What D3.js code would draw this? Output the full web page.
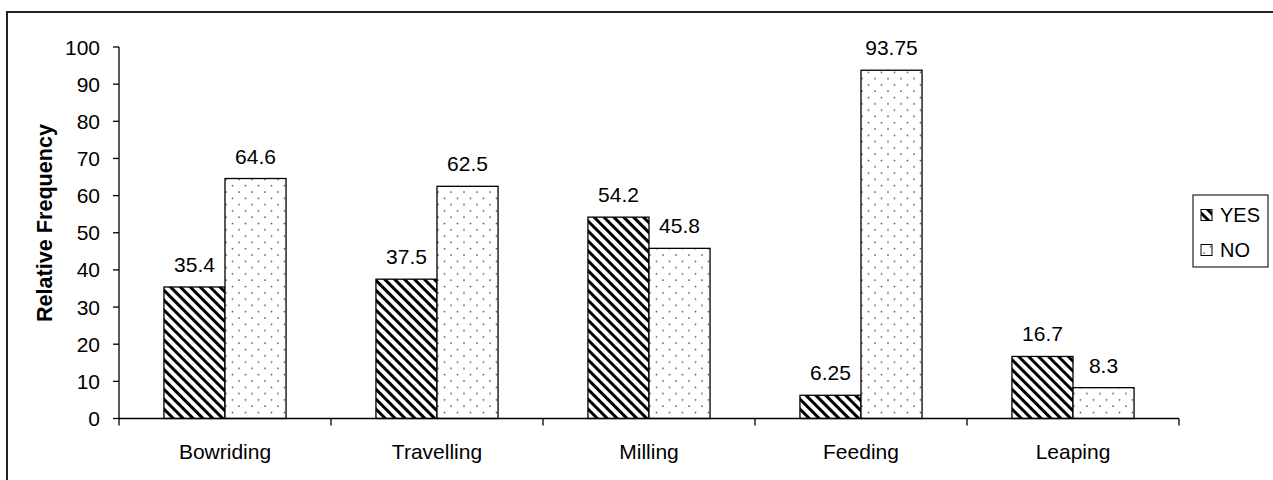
<!DOCTYPE html>
<html><head><meta charset="utf-8">
<script src="https://cdn.jsdelivr.net/npm/d3@7"></script>
<style>body{margin:0;background:#fff}svg{display:block}text{font-family:"Liberation Sans",Arial,sans-serif}</style>
</head><body>
<svg id="c" width="1273" height="480"></svg>
<script>
const categories = ["Bowriding","Travelling","Milling","Feeding","Leaping"];
const seriesNames = ["YES","NO"];
const yesValues = [35.4, 37.5, 54.2, 6.25, 16.7];
const noValues = [64.6, 62.5, 45.8, 93.75, 8.3];
const yesLabels = ["35.4","37.5","54.2","6.25","16.7"];
const noLabels = ["64.6","62.5","45.8","93.75","8.3"];
const yTicks = [0,10,20,30,40,50,60,70,80,90,100];

const svg = d3.select("#c");
const defs = svg.append("defs");
const hatch = defs.append("pattern").attr("id","hatch").attr("patternUnits","userSpaceOnUse")
  .attr("width",7).attr("height",7).attr("patternTransform","rotate(-45)");
hatch.append("rect").attr("width",7).attr("height",7).attr("fill","#fff");
hatch.append("rect").attr("x",0).attr("y",0).attr("width",3).attr("height",7).attr("fill","#000");
const dots = defs.append("pattern").attr("id","dots").attr("patternUnits","userSpaceOnUse")
  .attr("width",13).attr("height",12.6);
dots.append("rect").attr("width",13).attr("height",12.6).attr("fill","#fff");
dots.append("circle").attr("cx",3).attr("cy",3).attr("r",0.9).attr("fill","#555");
dots.append("circle").attr("cx",9.5).attr("cy",9.3).attr("r",0.9).attr("fill","#555");

// outer frame
svg.append("rect").attr("x",7).attr("y",12).attr("width",1290).attr("height",490)
  .attr("fill","none").attr("stroke","#222").attr("stroke-width",2);

const x0 = d3.scaleBand().domain(categories).range([119,1179]).padding(0);
const bw = x0.bandwidth();
const x1 = d3.scaleBand().domain(seriesNames).range([bw*0.212, bw*0.788]).padding(0);
const y = d3.scaleLinear().domain([0,100]).range([418.5,47]);

const data = categories.map((c,i)=>({c, vals:[{s:"YES",v:yesValues[i],l:yesLabels[i]},{s:"NO",v:noValues[i],l:noLabels[i]}]}));
const fills = {YES:"url(#hatch)", NO:"url(#dots)"};

const g = svg.append("g");
const grp = g.selectAll("g.cat").data(data).join("g").attr("transform",d=>`translate(${x0(d.c)},0)`);
grp.selectAll("rect").data(d=>d.vals).join("rect")
  .attr("x",d=>x1(d.s)).attr("width",x1.bandwidth())
  .attr("y",d=>y(d.v)).attr("height",d=>y(0)-y(d.v))
  .attr("fill",d=>fills[d.s]).attr("stroke","#000").attr("stroke-width",1.3);
grp.selectAll("text").data(d=>d.vals).join("text")
  .attr("x",d=>x1(d.s)+x1.bandwidth()/2).attr("y",d=>y(d.v)-15)
  .attr("text-anchor","middle").attr("font-size",21).text(d=>d.l);

// y axis
const ya = svg.append("g").attr("transform","translate(119,0)");
ya.append("line").attr("x1",0).attr("x2",0).attr("y1",y(100)).attr("y2",y(0)).attr("stroke","#000").attr("stroke-width",1.3);
ya.selectAll("line.t").data(yTicks).join("line").attr("class","t")
  .attr("x1",-6).attr("x2",0).attr("y1",d=>y(d)).attr("y2",d=>y(d)).attr("stroke","#000").attr("stroke-width",1.3);
ya.selectAll("text").data(yTicks).join("text")
  .attr("x",-19).attr("y",d=>y(d)).attr("dy","0.36em").attr("text-anchor","end").attr("font-size",21).text(d=>d);

// x axis
const xa = svg.append("g");
xa.append("line").attr("x1",119).attr("x2",1179).attr("y1",y(0)).attr("y2",y(0)).attr("stroke","#000").attr("stroke-width",1.3);
const bounds = categories.map(c=>x0(c)).concat([x0(categories[categories.length-1])+bw]);
xa.selectAll("line.t").data(bounds).join("line").attr("class","t")
  .attr("x1",d=>d).attr("x2",d=>d).attr("y1",y(0)).attr("y2",y(0)+7).attr("stroke","#000").attr("stroke-width",1.3);
xa.selectAll("text").data(categories).join("text")
  .attr("x",d=>x0(d)+bw/2).attr("y",459).attr("text-anchor","middle").attr("font-size",21).text(d=>d);

// y title
svg.append("text").attr("transform",`translate(52,223) rotate(-90)`)
  .attr("text-anchor","middle").attr("font-size",21.6).attr("font-weight","bold").text("Relative Frequency");

// legend
const lg = svg.append("g");
lg.append("rect").attr("x",1193).attr("y",195).attr("width",75).attr("height",72).attr("fill","#fff").attr("stroke","#333").attr("stroke-width",1.3);
const li = lg.selectAll("g").data(seriesNames).join("g").attr("transform",(d,i)=>`translate(1201,${215+i*35})`);
li.append("rect").attr("x",0).attr("y",-5.5).attr("width",11).attr("height",11).attr("fill",d=>fills[d]).attr("stroke","#000").attr("stroke-width",1);
li.append("text").attr("x",19).attr("y",0).attr("dy","0.36em").attr("font-size",20).text(d=>d);
</script>
</body></html>
